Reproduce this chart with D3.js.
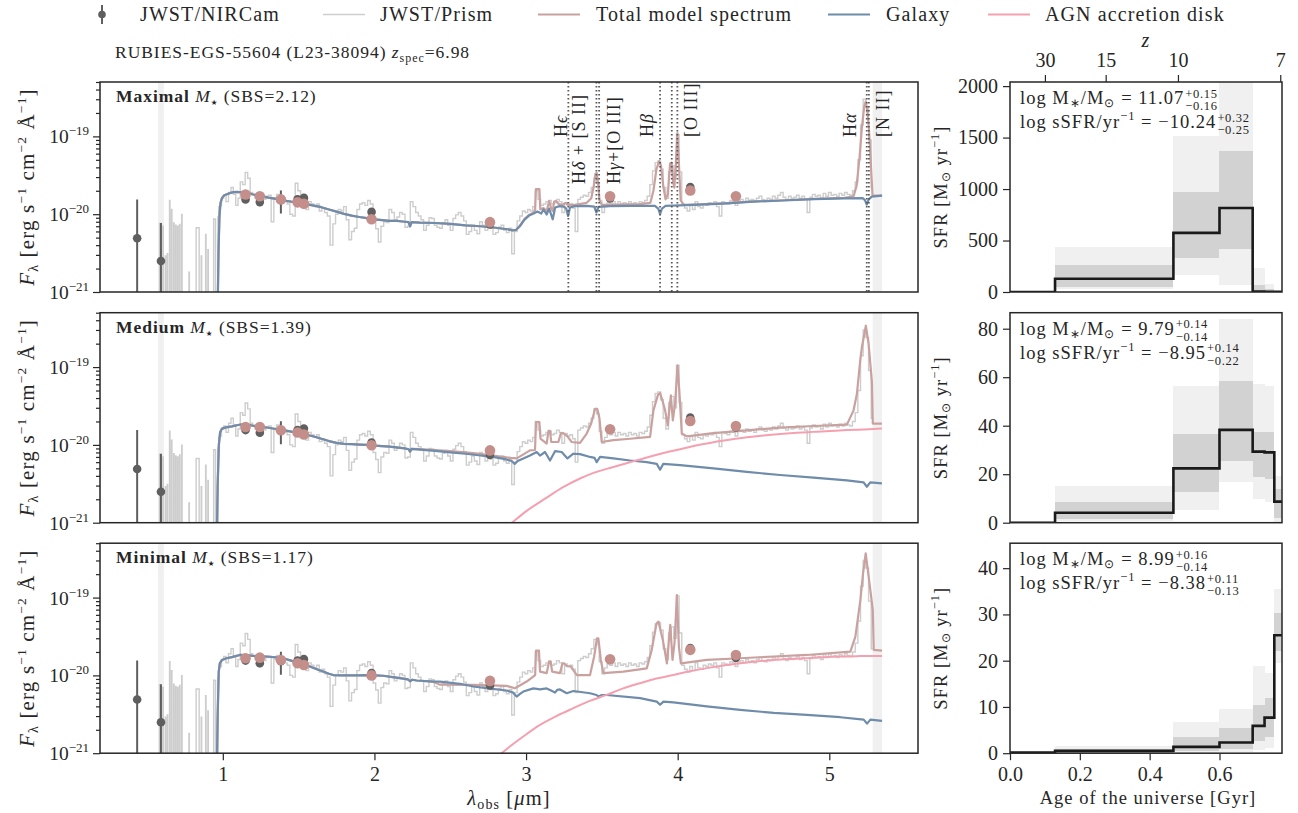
<!DOCTYPE html>
<html><head><meta charset="utf-8">
<script src="https://cdn.jsdelivr.net/npm/d3@7"></script>
<style>
body{margin:0;background:#fff}
svg{display:block}
text{font-family:"Liberation Serif","Times New Roman",serif;fill:#262626;letter-spacing:0.055em}
.tick text,text.tl{letter-spacing:0}
</style></head>
<body><svg id="c" width="1298" height="813"></svg>
<script>
// ===================== DATA (flux in units of 1e-20 erg/s/cm2/A) =====================
const panelNames = ["Maximal", "Medium", "Minimal"];
const panelSBS = ["2.12", "1.39", "1.17"];
const titleText = "RUBIES-EGS-55604 (L23-38094) ";
const zspec = "6.98";

// NIRCam / HST photometry
const photWave = [0.435, 0.592, 1.150, 1.244, 1.383, 1.493, 1.535, 1.981, 2.762, 3.554, 4.083, 4.384];
const photFlux = [0.49, 0.25, 1.55, 1.43, 1.52, 1.55, 1.62, 1.07, 0.74, 1.59, 2.24, 1.68];
const photErr  = [1.06, 0.52, 0.08, 0.16, 0.50, 0.07, 0.11, 0.05, 0.05, 0.05, 0.07, 0.06];
const modelPhotMax = [null, null, 1.79, 1.70, 1.55, 1.42, 1.36, 0.86, 0.79, 1.70, 2.02, 1.70];
const modelPhotMed = [null, null, 1.70, 1.70, 1.54, 1.44, 1.36, 0.99, 0.85, 1.59, 2.03, 1.75];
const modelPhotMin = [null, null, 1.66, 1.69, 1.58, 1.43, 1.36, 1.00, 0.85, 1.61, 2.13, 1.83];

// NIRSpec prism spectrum [wavelength um, flux]
const prism = [
[0.560,-0.4],[0.581,-0.4],[0.584,0.76],[0.587,-0.4],[0.603,-0.3],[0.606,0.70],[0.609,-0.5],[0.619,-0.3],
[0.622,0.29],[0.625,-0.3],[0.632,-0.2],[0.635,0.31],[0.638,-0.2],[0.647,-0.5],[0.650,1.50],[0.653,-0.5],
[0.660,-0.3],[0.663,1.15],[0.666,-0.3],[0.674,-0.4],[0.677,0.77],[0.680,-0.4],[0.687,-0.2],[0.690,0.72],
[0.693,-0.5],[0.700,-0.3],[0.703,0.70],[0.706,-0.3],[0.713,-0.3],[0.716,0.74],[0.719,-0.3],[0.727,-0.6],
[0.730,0.99],[0.733,-0.6],[0.775,-0.2],[0.778,0.18],[0.781,-0.4],[0.822,-0.2],[0.826,0.67],[0.842,0.67],
[0.846,-0.3],[0.856,-0.4],[0.859,0.29],[0.862,-0.4],[0.885,-0.2],[0.888,0.55],[0.891,-0.1],[0.900,-0.3],
[0.903,0.35],[0.906,-0.3],[0.938,-0.2],[0.941,0.87],[0.950,0.86],[0.954,-0.2],[0.966,-0.3],[0.969,0.92],
[0.976,1.25],[0.985,1.30],[0.998,1.60],[1.013,1.75],
[1.029,1.45],[1.046,1.90],[1.062,2.20],[1.077,1.80],[1.093,1.30],[1.107,1.60],[1.123,2.60],[1.139,2.40],
[1.156,3.45],[1.172,2.90],[1.189,1.90],[1.205,1.80],[1.222,1.60],[1.240,1.70],[1.257,1.45],[1.275,1.55],
[1.292,1.70],[1.310,1.75],[1.328,0.80],[1.345,1.60],[1.363,1.80],[1.381,1.50],[1.398,1.55],[1.416,1.45],
[1.433,1.35],[1.451,1.00],[1.469,0.95],[1.486,2.50],[1.504,2.00],[1.522,1.55],[1.539,1.25],[1.557,1.15],
[1.574,1.45],[1.592,1.35],[1.610,1.25],[1.627,1.35],[1.645,1.10],[1.662,1.20],[1.680,1.05],[1.698,0.95],
[1.717,0.40],[1.735,0.75],[1.752,1.00],[1.770,1.15],[1.788,1.10],[1.805,1.25],[1.823,0.85],[1.840,0.47],
[1.858,0.60],[1.876,0.66],[1.893,1.15],[1.911,1.35],[1.928,1.40],[1.946,1.30],[1.964,1.50],[1.982,1.35],
[2.000,0.80],[2.017,0.65],[2.034,0.44],[2.052,0.70],[2.070,0.80],[2.087,0.78],[2.105,1.15],[2.122,1.05],
[2.140,0.85],[2.157,0.92],[2.175,1.05],[2.193,1.00],[2.210,0.68],[2.228,0.70],[2.245,1.45],[2.263,1.25],
[2.281,1.05],[2.298,0.95],[2.316,0.85],[2.333,0.62],[2.351,0.72],[2.369,0.90],[2.386,0.88],[2.404,0.72],
[2.421,0.68],[2.439,0.66],[2.457,0.78],[2.474,0.85],[2.492,0.72],[2.509,0.62],[2.527,0.88],[2.544,0.98],
[2.562,1.05],[2.580,0.95],[2.597,0.82],[2.615,0.55],[2.632,0.60],[2.650,0.72],[2.668,0.62],[2.685,0.56],
[2.703,0.80],[2.721,0.72],[2.738,0.62],[2.756,0.70],[2.773,0.66],[2.791,0.55],[2.809,0.58],[2.826,0.68],
[2.844,0.72],[2.861,0.62],[2.879,0.58],[2.897,0.66],[2.914,0.31],[2.932,0.60],[2.950,0.82],[2.967,0.95],
[2.985,1.10],[3.002,1.05],[3.020,1.15],[3.035,1.10],[3.052,1.25],[3.070,2.00],[3.087,1.55],[3.105,1.30],
[3.122,1.35],[3.140,1.45],[3.157,1.50],[3.175,1.35],[3.192,1.40],[3.210,1.55],[3.228,1.45],[3.245,1.05],
[3.263,1.40],[3.280,1.30],[3.298,1.35],[3.315,1.20],[3.333,0.60],[3.350,1.55],[3.368,1.65],[3.386,1.75],
[3.403,1.70],[3.421,1.90],[3.438,2.20],[3.456,2.90],[3.474,2.50],[3.491,1.50],[3.509,1.05],[3.526,1.25],
[3.544,1.40],[3.562,1.35],[3.579,1.45],[3.597,1.30],[3.614,1.45],[3.632,1.35],[3.650,1.40],[3.667,1.30],
[3.685,1.45],[3.702,1.35],[3.720,1.40],[3.737,1.30],[3.755,1.45],[3.773,1.40],[3.790,1.50],[3.808,1.70],
[3.825,2.40],[3.843,3.60],[3.860,4.60],[3.878,4.80],[3.896,3.80],[3.913,2.20],[3.931,1.60],[3.948,3.50],
[3.966,4.20],[3.983,3.00],[4.001,10.5],[4.018,3.50],[4.036,1.35],[4.054,1.20],[4.071,1.10],[4.089,1.30],
[4.106,1.15],[4.124,1.45],[4.141,1.25],[4.159,1.20],[4.177,1.35],[4.194,1.30],[4.212,1.40],[4.229,1.35],
[4.247,1.45],[4.265,1.25],[4.282,0.95],[4.300,1.45],[4.317,1.40],[4.335,1.35],[4.353,1.50],[4.370,1.45],
[4.388,1.30],[4.405,1.50],[4.423,1.55],[4.440,1.45],[4.458,1.60],[4.476,1.50],[4.493,1.55],[4.511,1.45],
[4.528,1.60],[4.546,1.70],[4.564,1.55],[4.581,1.50],[4.599,1.60],[4.616,1.55],[4.634,1.70],[4.652,1.60],
[4.669,1.75],[4.687,1.90],[4.704,1.65],[4.722,1.55],[4.740,1.70],[4.757,1.60],[4.775,1.65],[4.792,1.75],
[4.810,1.60],[4.828,1.70],[4.845,1.55],[4.863,1.05],[4.880,1.65],[4.898,1.80],[4.916,1.70],[4.933,1.75],
[4.951,1.60],[4.968,1.85],[4.986,1.70],[5.004,1.90],[5.021,1.75],[5.039,1.80],[5.056,1.70],[5.074,1.85],
[5.092,1.75],[5.109,1.90],[5.127,1.80],[5.144,1.75],[5.162,2.00],[5.180,2.60],[5.197,5.00],[5.215,14.0],
[5.232,30.0],[5.250,24.0],[5.268,9.00],[5.285,2.20]
];

// Galaxy (stellar) model, one per fit
const galMax = [
[0.90,0.02],[0.955,0.03],[0.966,0.06],[0.972,0.35],[0.978,0.95],[0.985,1.40],[0.995,1.62],[1.01,1.75],
[1.04,1.85],[1.07,1.92],[1.10,1.93],[1.13,1.91],[1.16,1.88],[1.20,1.79],[1.25,1.71],[1.30,1.63],[1.35,1.57],
[1.40,1.50],[1.45,1.45],[1.50,1.41],[1.55,1.35],[1.60,1.29],[1.65,1.23],[1.70,1.15],[1.75,1.08],[1.80,1.01],
[1.85,0.96],[1.90,0.92],[1.95,0.89],[2.00,0.86],[2.05,0.84],[2.10,0.82],[2.15,0.82],[2.20,0.80],[2.225,0.79],
[2.235,0.70],[2.245,0.79],[2.30,0.78],[2.40,0.77],[2.50,0.75],[2.60,0.72],[2.70,0.70],[2.80,0.67],[2.85,0.65],
[2.88,0.64],[2.91,0.62],[2.935,0.63],[2.96,0.70],[2.99,0.85],[3.02,0.96],[3.05,1.02],[3.075,1.08],[3.10,1.02],
[3.115,1.15],[3.136,0.99],[3.152,1.18],[3.176,0.86],[3.192,1.22],[3.22,1.27],[3.25,1.25],[3.265,1.18],
[3.277,0.95],[3.29,1.22],[3.32,1.27],[3.40,1.28],[3.45,1.25],[3.464,1.05],[3.478,1.24],[3.55,1.27],[3.70,1.28],
[3.85,1.28],[3.872,1.18],[3.884,1.00],[3.896,1.18],[3.92,1.28],[4.10,1.32],[4.30,1.37],[4.50,1.45],[4.70,1.50],
[4.90,1.56],[5.10,1.60],[5.22,1.61],[5.235,1.52],[5.247,1.33],[5.26,1.55],[5.28,1.68],[5.348,1.73]
];
const galMed = [
[0.90,0.02],[0.958,0.03],[0.966,0.30],[0.974,1.00],[0.982,1.45],[0.995,1.62],[1.02,1.68],[1.06,1.73],
[1.10,1.80],[1.13,1.84],[1.17,1.81],[1.20,1.76],[1.25,1.71],[1.30,1.66],[1.35,1.60],[1.40,1.55],[1.45,1.48],
[1.50,1.42],[1.55,1.35],[1.60,1.28],[1.65,1.20],[1.70,1.12],[1.75,1.06],[1.80,1.03],[1.85,1.02],[1.90,1.01],
[1.95,1.00],[2.00,0.98],[2.10,0.95],[2.20,0.90],[2.225,0.88],[2.235,0.82],[2.245,0.89],[2.30,0.87],[2.40,0.84],
[2.50,0.80],[2.60,0.77],[2.70,0.73],[2.80,0.69],[2.87,0.65],[2.905,0.62],[2.925,0.57],[2.945,0.62],[2.982,0.67],
[3.026,0.73],[3.070,0.81],[3.092,0.73],[3.125,0.81],[3.158,0.63],[3.191,0.83],[3.235,0.81],[3.273,0.67],
[3.312,0.77],[3.356,0.76],[3.422,0.70],[3.452,0.68],[3.466,0.60],[3.488,0.70],[3.576,0.67],[3.686,0.63],
[3.796,0.60],[3.862,0.57],[3.884,0.48],[3.905,0.57],[4.016,0.55],[4.236,0.50],[4.456,0.45],[4.676,0.41],
[4.896,0.38],[5.116,0.35],[5.226,0.33],[5.248,0.29],[5.270,0.33],[5.347,0.32]
];
const galMin = [
[0.90,0.02],[0.958,0.03],[0.966,0.30],[0.973,1.10],[0.980,1.43],[0.995,1.58],[1.024,1.66],[1.06,1.72],
[1.112,1.83],[1.15,1.82],[1.20,1.78],[1.25,1.76],[1.288,1.75],[1.35,1.70],[1.398,1.66],[1.45,1.55],[1.508,1.43],
[1.574,1.30],[1.62,1.20],[1.662,1.12],[1.70,1.05],[1.728,1.01],[1.78,1.00],[1.838,1.00],[1.90,1.00],[1.948,1.01],
[2.00,1.00],[2.058,0.99],[2.12,0.95],[2.168,0.92],[2.22,0.89],[2.235,0.84],[2.25,0.88],[2.278,0.86],[2.388,0.83],
[2.432,0.83],[2.564,0.78],[2.652,0.72],[2.75,0.68],[2.872,0.64],[2.915,0.60],[2.938,0.535],[2.96,0.58],
[2.982,0.62],[3.048,0.68],[3.092,0.66],[3.136,0.68],[3.165,0.64],[3.191,0.60],[3.205,0.65],[3.224,0.66],
[3.268,0.59],[3.312,0.63],[3.422,0.59],[3.465,0.56],[3.477,0.535],[3.50,0.56],[3.532,0.56],[3.752,0.51],
[3.862,0.46],[3.884,0.42],[3.906,0.46],[3.972,0.45],[4.192,0.40],[4.412,0.36],[4.633,0.33],[4.852,0.31],
[5.073,0.29],[5.227,0.27],[5.249,0.24],[5.271,0.27],[5.348,0.26]
];
// Total model: red part (blue part identical to galaxy model)
const totMaxRed = [
[2.96,0.72],[2.99,0.87],[3.02,0.98],[3.05,1.05],[3.060,1.15],[3.065,2.10],[3.088,2.10],[3.094,1.15],
[3.115,1.20],[3.136,1.10],[3.152,1.47],[3.165,1.20],[3.176,1.10],[3.185,1.45],[3.20,1.47],[3.215,1.35],
[3.24,1.32],[3.265,1.40],[3.277,1.30],[3.29,1.32],[3.32,1.32],[3.40,1.40],[3.43,1.60],[3.445,2.20],
[3.458,3.30],[3.466,3.40],[3.474,2.60],[3.485,1.50],[3.50,1.32],[3.60,1.33],[3.75,1.35],[3.82,1.40],
[3.84,2.00],[3.86,3.80],[3.878,4.80],[3.89,4.20],[3.905,2.30],[3.92,1.55],[3.935,1.80],[3.950,4.50],
[3.960,4.60],[3.970,2.60],[3.978,2.20],[3.988,4.50],[3.998,11.0],[4.008,4.50],[4.02,1.50],[4.04,1.32],
[4.10,1.33],[4.30,1.38],[4.50,1.46],[4.70,1.51],[4.90,1.57],[5.10,1.62],[5.16,1.70],[5.18,2.30],[5.20,5.50],
[5.215,13.0],[5.230,24.0],[5.240,28.0],[5.250,22.0],[5.262,12.0],[5.275,4.00],[5.285,1.75],[5.348,1.74]
];
const totMedRed = [
[2.30,0.88],[2.40,0.86],[2.50,0.83],[2.60,0.80],[2.696,0.77],[2.806,0.72],[2.90,0.68],[2.938,0.67],[2.98,0.75],
[3.026,0.85],[3.059,0.86],[3.066,1.97],[3.088,1.97],[3.095,1.20],[3.136,1.04],[3.148,1.51],[3.158,1.51],
[3.166,1.09],[3.213,1.09],[3.230,1.42],[3.245,1.42],[3.273,1.29],[3.30,1.09],[3.356,1.06],[3.40,1.40],
[3.43,1.90],[3.455,2.90],[3.470,2.90],[3.484,2.20],[3.499,1.09],[3.576,1.15],[3.686,1.20],[3.818,1.27],
[3.840,2.78],[3.870,4.40],[3.884,4.64],[3.905,3.40],[3.917,2.78],[3.935,1.79],[3.955,4.33],[3.968,2.07],
[3.983,3.39],[3.999,10.5],[4.012,4.55],[4.027,1.40],[4.060,1.29],[4.236,1.42],[4.456,1.54],[4.676,1.67],
[4.896,1.75],[5.116,1.82],[5.160,2.78],[5.182,4.50],[5.204,12.2],[5.215,18.0],[5.241,34.0],[5.259,20.0],
[5.281,6.45],[5.287,1.88],[5.347,1.88]
];
const totMinRed = [
[2.432,0.76],[2.652,0.755],[2.872,0.733],[2.927,0.684],[3.004,0.833],[3.060,1.01],[3.066,2.08],[3.085,2.08],
[3.092,1.12],[3.136,1.07],[3.152,1.51],[3.162,1.51],[3.172,1.12],[3.224,1.07],[3.240,1.43],[3.25,1.43],
[3.268,1.32],[3.295,1.30],[3.335,1.01],[3.422,1.01],[3.449,1.75],[3.468,3.00],[3.477,3.00],[3.493,1.58],
[3.510,1.07],[3.642,1.12],[3.796,1.23],[3.829,2.13],[3.860,4.60],[3.873,4.92],[3.902,2.86],[3.929,1.43],
[3.951,4.46],[3.966,1.58],[3.979,2.59],[3.995,10.8],[4.008,2.35],[4.021,1.43],[4.192,1.58],[4.412,1.66],
[4.633,1.75],[4.852,1.83],[5.139,2.02],[5.172,3.15],[5.205,9.30],[5.222,20.0],[5.240,37.0],[5.260,18.3],
[5.287,6.90],[5.293,2.13],[5.348,2.08]
];
// AGN accretion disk component
const agnMed = [
[2.60,0.03],[2.75,0.055],[2.907,0.10],[3.00,0.14],[3.136,0.21],[3.25,0.29],[3.356,0.37],[3.45,0.44],
[3.576,0.52],[3.70,0.61],[3.796,0.69],[3.90,0.78],[4.016,0.88],[4.12,0.98],[4.236,1.08],[4.35,1.17],
[4.456,1.25],[4.566,1.32],[4.676,1.38],[4.786,1.43],[4.896,1.47],[5.006,1.51],[5.116,1.55],[5.23,1.58],[5.347,1.62]
];
const agnMin = [
[2.60,0.035],[2.72,0.06],[2.839,0.10],[2.982,0.164],[3.092,0.231],[3.20,0.30],[3.312,0.379],[3.42,0.47],
[3.532,0.562],[3.64,0.68],[3.752,0.794],[3.86,0.91],[3.972,1.01],[4.08,1.13],[4.192,1.24],[4.30,1.34],
[4.412,1.43],[4.52,1.51],[4.633,1.58],[4.74,1.62],[4.852,1.66],[4.96,1.71],[5.073,1.75],[5.20,1.77],[5.348,1.78]
];
// masked wavelength ranges
const maskRanges = [[0.573, 0.611], [5.286, 5.348]];
// emission line markers (observed um) and labels
const lineWaves = [3.279, 3.464, 3.482, 3.884, 3.961, 3.998, 5.247, 5.261];
const lineLabels = [
  {w:3.279, parts:[["H"],["ϵ",{it:1}]]},
  {w:3.279, parts:[["H"],["δ",{it:1}],[" + [S II]"]]},
  {w:3.482, parts:[["H"],["γ",{it:1}],["+[O III]"]]},
  {w:3.884, parts:[["H"],["β",{it:1}]]},
  {w:3.998, parts:[["[O III]"]]},
  {w:5.247, parts:[["H"],["α",{it:1}]]},
  {w:5.261, parts:[["[N II]"]]}
];
const specTicks = [1, 2, 3, 4, 5];
const fluxMajor = [0.1, 1, 10];
const fluxMajorExp = ["−21", "−20", "−19"];
const fluxMinor = [0.2,0.3,0.4,0.5,0.6,0.7,0.8,0.9,2,3,4,5,6,7,8,9,20,30,40,50];

// Star formation histories
const ageEdges = [0, 0.129, 0.468, 0.600, 0.695, 0.729, 0.757, 0.779];
const sfrMedMax = [0, 129, 574, 816, 4, 2, 1];
const sfrLo1Max = [0, 48, 329, 419, 0, 0, 0];
const sfrHi1Max = [0, 258, 968, 1365, 71, 28, 5];
const sfrLo2Max = [0, 25, 165, 71, 0, 0, 0];
const sfrHi2Max = [0, 441, 1516, 2600, 235, 80, 12];
const sfrMedMed = [0, 4.1, 22.4, 38.3, 29.3, 29.0, 8.7];
const sfrLo1Med = [0, 1.7, 12.7, 25.4, 18.9, 18.2, 2.1];
const sfrHi1Med = [0, 8.4, 36.6, 58.3, 37.3, 37.6, 14.1];
const sfrLo2Med = [0, 0.5, 5.1, 16.8, 9.7, 8.5, 0.3];
const sfrHi2Med = [0, 15.0, 56.5, 84.1, 57.3, 56.5, 19.2];
const sfrMedMin = [0.13, 0.5, 1.36, 2.3, 5.9, 7.7, 25.5];
const sfrLo1Min = [0.02, 0.15, 0.5, 0.9, 2.7, 3.4, 22.1];
const sfrHi1Min = [0.25, 0.8, 3.4, 5.5, 10.4, 12.0, 30.4];
const sfrLo2Min = [0, 0, 0.1, 0.2, 0.7, 1.2, 19.5];
const sfrHi2Min = [0.4, 1.6, 6.8, 9.6, 18.9, 17.3, 35.6];
const sfrTop = [2040, 86.6, 45.4];
const sfrTicks = [[0,500,1000,1500,2000],[0,20,40,60,80],[0,10,20,30,40]];
const ageTicks = [0, 0.2, 0.4, 0.6];
const zTicks = [30, 15, 10, 7];
const zTickAges = [0.100, 0.274, 0.481, 0.774];
const logMass = ["11.07", "9.79", "8.99"];
const logMassUp = ["+0.15", "+0.14", "+0.16"];
const logMassDn = ["−0.16", "−0.14", "−0.14"];
const logSSFR = ["−10.24", "−8.95", "−8.38"];
const logSSFRUp = ["+0.32", "+0.14", "+0.11"];
const logSSFRDn = ["−0.25", "−0.22", "−0.13"];

// ===================== STYLE / LAYOUT =====================
const INK = "#262626";
const C_PRISM = "#cdcdcd", C_TOT = "#c9a19f", C_GAL = "#6f8cab", C_AGN = "#f5a0b0";
const C_OBS = "#5f5f5f", C_MPH = "#c48e8a", C_MASK = "#f0f0f0";
const C_BAND2 = "#f0f0f0", C_BAND1 = "#d2d2d2";
const LX0 = 100, LX1 = 918, RX0 = 1010, RX1 = 1282;
const TOPS = [82, 312.7, 543.2], PH = 210;

const svg = d3.select("#c");

function rich(t, parts) {
  let off = 0;
  parts.forEach(p => {
    const s = p[0], o = p[1] || {};
    const ts = t.append("tspan").text(s);
    const target = o.shift || 0;
    if (target !== off) { ts.attr("dy", target - off); off = target; }
    if (o.size) ts.attr("font-size", o.size);
    if (o.it) ts.attr("font-style", "italic");
    if (o.bold) ts.attr("font-weight", "bold");
    if (o.ff) ts.attr("font-family", o.ff);
  });
  return t;
}

// ===================== SCALES =====================
const specX = d3.scaleLinear().domain([0.19, 5.585]).range([LX0, LX1]);
const fluxY = TOPS.map(t => d3.scaleLog().domain([0.1, 50]).range([t + PH, t]));
const ageX = d3.scaleLinear().domain([0, 0.779]).range([RX0, RX1]);
const sfrY = TOPS.map((t, i) => d3.scaleLinear().domain([0, sfrTop[i]]).range([t + PH, t]));

const gal = [galMax, galMed, galMin];
const tot = [
  galMax.filter(d => d[0] < 2.95).concat(totMaxRed),
  galMed.filter(d => d[0] < 2.30).concat(totMedRed),
  galMin.filter(d => d[0] < 2.40).concat(totMinRed)
];
const agn = [null, agnMed, agnMin];
const modelPhot = [modelPhotMax, modelPhotMed, modelPhotMin];
const sfr = [
  {med:sfrMedMax, lo1:sfrLo1Max, hi1:sfrHi1Max, lo2:sfrLo2Max, hi2:sfrHi2Max},
  {med:sfrMedMed, lo1:sfrLo1Med, hi1:sfrHi1Med, lo2:sfrLo2Med, hi2:sfrHi2Med},
  {med:sfrMedMin, lo1:sfrLo1Min, hi1:sfrHi1Min, lo2:sfrLo2Min, hi2:sfrHi2Min}
];
const pos = v => (v > 0 ? v : 1e-4);

const defs = svg.append("defs");

// ===================== LEGEND & TITLE =====================
const lg = svg.append("g").attr("font-size", 20);
const LY = 14.5;
lg.append("line").attr("x1", 102).attr("x2", 102).attr("y1", 5).attr("y2", 24).attr("stroke", C_OBS).attr("stroke-width", 2);
lg.append("circle").attr("cx", 102).attr("cy", LY).attr("r", 3.8).attr("fill", C_OBS);
lg.append("text").attr("x", 140).attr("y", 21).attr("font-size", 20).text("JWST/NIRCam");
const legItems = [
  {x:323, c:C_PRISM, w:1.5, t:"JWST/Prism", tx:380},
  {x:538, c:C_TOT, w:2, t:"Total model spectrum", tx:596},
  {x:828, c:C_GAL, w:2, t:"Galaxy", tx:886},
  {x:988, c:C_AGN, w:2, t:"AGN accretion disk", tx:1045}
];
legItems.forEach(d => {
  lg.append("line").attr("x1", d.x).attr("x2", d.x + 42).attr("y1", LY).attr("y2", LY).attr("stroke", d.c).attr("stroke-width", d.w);
  lg.append("text").attr("x", d.tx).attr("y", 21).attr("font-size", 20).text(d.t);
});
rich(svg.append("text").attr("x", 115).attr("y", 58).attr("font-size", 17.5),
  [[titleText], ["z", {it:1}], ["spec", {size:12, shift:4}], ["=" + zspec]]);

// ===================== SPECTRUM PANELS =====================
TOPS.forEach((top, i) => {
  const y = fluxY[i];
  const g = svg.append("g");
  const cid = "clipL" + i;
  defs.append("clipPath").attr("id", cid).append("rect").attr("x", LX0).attr("y", top).attr("width", LX1 - LX0).attr("height", PH);
  const pg = g.append("g").attr("clip-path", `url(#${cid})`);

  maskRanges.forEach(r => {
    pg.append("rect").attr("x", specX(r[0])).attr("width", specX(r[1]) - specX(r[0]))
      .attr("y", top).attr("height", PH).attr("fill", C_MASK);
  });

  const ln = d3.line().x(d => specX(d[0])).y(d => y(pos(d[1])));
  pg.append("path").attr("d", ln.curve(d3.curveStep)(prism)).attr("fill", "none")
    .attr("stroke", C_PRISM).attr("stroke-width", 1.4);
  pg.append("path").attr("d", ln.curve(d3.curveLinear)(tot[i]))
    .attr("fill", "none").attr("stroke", C_TOT).attr("stroke-width", 2.2).attr("stroke-linejoin", "round");
  pg.append("path").attr("d", ln.curve(d3.curveLinear)(gal[i]))
    .attr("fill", "none").attr("stroke", C_GAL).attr("stroke-width", 2.2).attr("stroke-linejoin", "round");
  if (agn[i]) {
    pg.append("path").attr("d", ln.curve(d3.curveMonotoneX)(agn[i]))
      .attr("fill", "none").attr("stroke", C_AGN).attr("stroke-width", 2);
  }
  if (i === 0) {
    lineWaves.forEach(w => {
      pg.append("line").attr("x1", specX(w)).attr("x2", specX(w)).attr("y1", top).attr("y2", top + PH)
        .attr("stroke", "#5a5a5a").attr("stroke-width", 1.8).attr("stroke-dasharray", "1.6,2.4");
    });
  }
  // observed photometry
  photWave.forEach((w, k) => {
    pg.append("line").attr("x1", specX(w)).attr("x2", specX(w))
      .attr("y1", y(pos(photFlux[k] - photErr[k]))).attr("y2", y(photFlux[k] + photErr[k]))
      .attr("stroke", C_OBS).attr("stroke-width", 2);
    pg.append("circle").attr("cx", specX(w)).attr("cy", y(photFlux[k])).attr("r", 4.3).attr("fill", C_OBS);
  });
  modelPhot[i].forEach((v, k) => {
    if (v == null) return;
    pg.append("circle").attr("cx", specX(photWave[k])).attr("cy", y(v)).attr("r", 5.3).attr("fill", C_MPH);
  });

  // frame
  g.append("rect").attr("x", LX0).attr("y", top).attr("width", LX1 - LX0).attr("height", PH)
    .attr("fill", "none").attr("stroke", INK).attr("stroke-width", 1.5);
  // y axis ticks
  const ax = g.append("g").attr("transform", `translate(${LX0},0)`);
  ax.call(d3.axisLeft(y).tickValues(fluxMajor).tickSize(7).tickFormat(() => ""));
  const axm = g.append("g").attr("transform", `translate(${LX0},0)`);
  axm.call(d3.axisLeft(y).tickValues(fluxMinor).tickSize(4).tickFormat(() => ""));
  [ax, axm].forEach(a => { a.select(".domain").remove(); a.selectAll("line").attr("stroke", INK).attr("stroke-width", 1.2); });
  fluxMajor.forEach((v, k) => {
    rich(g.append("text").attr("class", "tl").attr("x", LX0 - 11).attr("y", y(v) + 7).attr("text-anchor", "end").attr("font-size", 19.5),
      [["10"], [fluxMajorExp[k], {size:13, shift:-8}]]);
  });
  // y label
  rich(g.append("text").attr("transform", `translate(34,${top + PH / 2}) rotate(-90)`).attr("text-anchor", "middle").attr("font-size", 21),
    [["F", {it:1}], ["λ", {size:14, shift:4}], [" [erg s"], ["−1", {size:13.5, shift:-8}], [" cm"], ["−2", {size:13.5, shift:-8}],
     [" Å"], ["−1", {size:13.5, shift:-8}], ["]"]]);
  // panel label
  rich(g.append("text").attr("x", 116).attr("y", top + 20).attr("font-size", 17.5),
    [[panelNames[i], {bold:1}], [" "], ["M", {it:1}], ["★", {size:7.5, shift:3, ff:'"DejaVu Sans",sans-serif'}], [" (SBS=" + panelSBS[i] + ")", {shift:0}]]);

  if (i === 2) {
    const xa = g.append("g").attr("transform", `translate(0,${top + PH})`)
      .call(d3.axisBottom(specX).tickValues(specTicks).tickSize(7).tickPadding(7).tickFormat(d3.format("d")));
    xa.select(".domain").remove();
    xa.selectAll("line").attr("stroke", INK).attr("stroke-width", 1.2);
    xa.selectAll("text").attr("font-size", 20).attr("fill", INK).attr("font-family", '"Liberation Serif",serif');
    rich(svg.append("text").attr("x", 509).attr("y", 805).attr("text-anchor", "middle").attr("font-size", 20.5),
      [["λ", {it:1}], ["obs", {size:14, shift:4}], [" ["], ["μ", {it:1}], ["m]"]]);
  }
});

// line labels on top panel
lineLabels.forEach((d, k) => {
  const offs = [-7.6, 11, 15, -13, 14, -16.5, 14];
  const yb = [137, 184, 184, 137, 137, 137, 137];
  rich(svg.append("text").attr("transform", `translate(${specX(d.w) + offs[k]},${yb[k]}) rotate(-90)`)
    .attr("dominant-baseline", "central").attr("font-size", 18), d.parts);
});

// ===================== SFH PANELS =====================
TOPS.forEach((top, i) => {
  const y = sfrY[i];
  const s = sfr[i];
  const g = svg.append("g");
  const cid = "clipR" + i;
  defs.append("clipPath").attr("id", cid).append("rect").attr("x", RX0).attr("y", top).attr("width", RX1 - RX0).attr("height", PH);
  const pg = g.append("g").attr("clip-path", `url(#${cid})`);
  const bins = d3.range(s.med.length);
  pg.selectAll("rect.b2").data(bins).join("rect")
    .attr("x", k => ageX(ageEdges[k])).attr("width", k => ageX(ageEdges[k + 1]) - ageX(ageEdges[k]))
    .attr("y", k => y(s.hi2[k])).attr("height", k => Math.max(0, y(s.lo2[k]) - y(s.hi2[k])))
    .attr("fill", C_BAND2).attr("shape-rendering", "crispEdges");
  pg.selectAll("rect.b1").data(bins).join("rect")
    .attr("x", k => ageX(ageEdges[k])).attr("width", k => ageX(ageEdges[k + 1]) - ageX(ageEdges[k]))
    .attr("y", k => y(s.hi1[k])).attr("height", k => Math.max(0, y(s.lo1[k]) - y(s.hi1[k])))
    .attr("fill", C_BAND1).attr("shape-rendering", "crispEdges");
  const pts = bins.map(k => [ageEdges[k], s.med[k]]).concat([[ageEdges[ageEdges.length - 1], s.med[s.med.length - 1]]]);
  pg.append("path").attr("d", d3.line().x(d => ageX(d[0])).y(d => y(d[1])).curve(d3.curveStepAfter)(pts))
    .attr("fill", "none").attr("stroke", "#1a1a1a").attr("stroke-width", 2.6);

  g.append("rect").attr("x", RX0).attr("y", top).attr("width", RX1 - RX0).attr("height", PH)
    .attr("fill", "none").attr("stroke", INK).attr("stroke-width", 1.5);
  const ya = g.append("g").attr("transform", `translate(${RX0},0)`)
    .call(d3.axisLeft(y).tickValues(sfrTicks[i]).tickSize(7).tickPadding(5).tickFormat(d3.format("d")));
  ya.select(".domain").remove();
  ya.selectAll("line").attr("stroke", INK).attr("stroke-width", 1.2);
  ya.selectAll("text").attr("font-size", 20).attr("fill", INK).attr("font-family", '"Liberation Serif",serif');

  rich(g.append("text").attr("transform", `translate(947,${top + PH / 2}) rotate(-90)`).attr("text-anchor", "middle").attr("font-size", 18.5),
    [["SFR [M"], ["⊙", {size:12, shift:3}], [" yr"], ["−1", {size:12.5, shift:-8}], ["]"]]);

  // annotation
  const t1 = rich(g.append("text").attr("x", 1020).attr("y", top + 22).attr("font-size", 18.5),
    [["log M"], ["∗", {size:12, shift:3}], ["/M"], ["⊙", {size:12, shift:3}], [" = " + logMass[i], {shift:0}]]);
  const w1 = t1.node().getComputedTextLength();
  g.append("text").attr("x", 1020 + w1 + 1).attr("y", top + 15.5).attr("font-size", 12.5).text(logMassUp[i]);
  g.append("text").attr("x", 1020 + w1 + 1).attr("y", top + 28).attr("font-size", 12.5).text(logMassDn[i]);
  const t2 = rich(g.append("text").attr("x", 1020).attr("y", top + 46).attr("font-size", 18.5),
    [["log sSFR/yr"], ["−1", {size:12.5, shift:-8}], [" = " + logSSFR[i], {shift:0}]]);
  const w2 = t2.node().getComputedTextLength();
  g.append("text").attr("x", 1020 + w2 + 1).attr("y", top + 39.5).attr("font-size", 12.5).text(logSSFRUp[i]);
  g.append("text").attr("x", 1020 + w2 + 1).attr("y", top + 52).attr("font-size", 12.5).text(logSSFRDn[i]);

  if (i === 0) {
    const za = g.append("g").attr("transform", `translate(0,${top})`)
      .call(d3.axisTop(ageX).tickValues(zTickAges).tickSize(7).tickPadding(8).tickFormat((d, k) => zTicks[k]));
    za.select(".domain").remove();
    za.selectAll("line").attr("stroke", INK).attr("stroke-width", 1.2);
    za.selectAll("text").attr("font-size", 20).attr("fill", INK).attr("font-family", '"Liberation Serif",serif');
    g.append("text").attr("x", 1146).attr("y", 47).attr("text-anchor", "middle").attr("font-size", 20).attr("font-style", "italic").text("z");
  }
  if (i === 2) {
    const xa = g.append("g").attr("transform", `translate(0,${top + PH})`)
      .call(d3.axisBottom(ageX).tickValues(ageTicks).tickSize(7).tickPadding(7).tickFormat(d3.format(".1f")));
    xa.select(".domain").remove();
    xa.selectAll("line").attr("stroke", INK).attr("stroke-width", 1.2);
    xa.selectAll("text").attr("font-size", 20).attr("fill", INK).attr("font-family", '"Liberation Serif",serif');
    svg.append("text").attr("x", 1148).attr("y", 804).attr("text-anchor", "middle").attr("font-size", 18.5).text("Age of the universe [Gyr]");
  }
});
</script></body></html>
